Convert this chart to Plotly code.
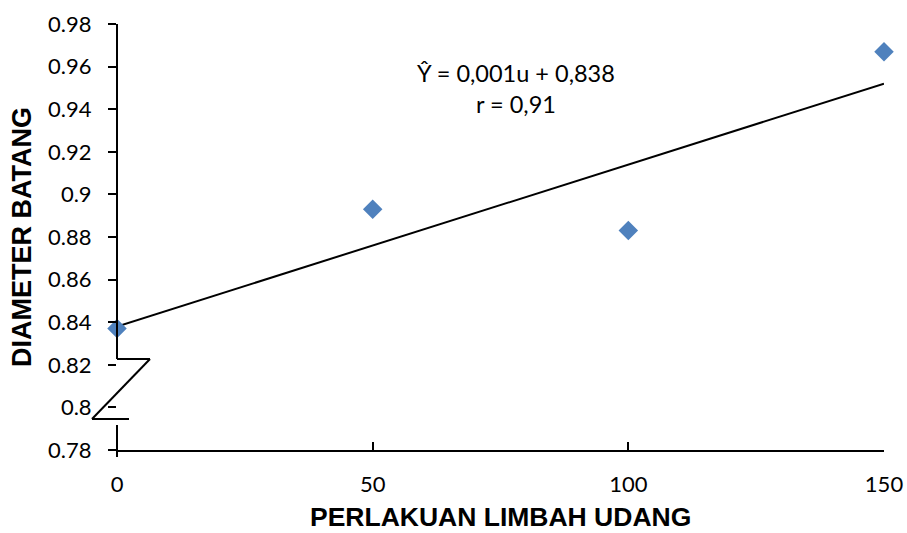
import numpy as np
import plotly.graph_objects as go

# Data
perlakuan = [0, 50, 100, 150]
diameter = [0.837, 0.893, 0.883, 0.967]
x_ticks = [0, 50, 100, 150]
y_ticks = [0.78, 0.80, 0.82, 0.84, 0.86, 0.88, 0.90, 0.92, 0.94, 0.96, 0.98]
y_tick_labels = ["0.78", "0.8", "0.82", "0.84", "0.86", "0.88", "0.9", "0.92", "0.94", "0.96", "0.98"]

slope, intercept = np.polyfit(perlakuan, diameter, 1)
trend_x = [min(perlakuan), max(perlakuan)]
trend_y = [slope * v + intercept for v in trend_x]

fig = go.Figure()
fig.add_trace(go.Scatter(x=trend_x, y=trend_y, mode="lines",
                         line=dict(color="black", width=2), showlegend=False))
fig.add_trace(go.Scatter(x=perlakuan, y=diameter, mode="markers",
                         marker=dict(symbol="diamond", size=15, color="#4F81BD",
                                     line=dict(width=0)), showlegend=False,
                         cliponaxis=False))

W, H = 907, 533
L, R, T, B = 117, 23, 24, 83
pw, ph = W - L - R, H - T - B

def px(xp):
    return (xp - L) / pw

def py(yp):
    return (H - B - yp) / ph

line_style = dict(color="black", width=2)
shapes = [
    dict(type="line", xref="paper", yref="paper", x0=0, x1=0, y0=py(24), y1=py(359), line=line_style),
    dict(type="line", xref="paper", yref="paper", x0=0, x1=0, y0=py(425), y1=py(457), line=line_style),
    dict(type="line", xref="paper", yref="paper", x0=0, x1=px(150), y0=py(359), y1=py(359), line=line_style),
    dict(type="line", xref="paper", yref="paper", x0=px(150), x1=px(92), y0=py(359), y1=py(419), line=line_style),
    dict(type="line", xref="paper", yref="paper", x0=px(92), x1=px(129), y0=py(419), y1=py(419), line=line_style),
]

annotations = [
    dict(text="Ŷ = 0,001u + 0,838<br>r = 0,91", x=78, y=0.9495, xref="x", yref="y",
         showarrow=False, font=dict(family="Lato", size=23.5, color="black"), align="center"),
    dict(text="<b>PERLAKUAN LIMBAH UDANG</b>", xref="paper", yref="paper",
         x=px(500), y=py(517), showarrow=False, xanchor="center", yanchor="middle",
         borderpad=0,
         font=dict(family="Liberation Sans, Arial", size=26.5, color="black")),
    dict(text="<b>DIAMETER BATANG</b>", xref="paper", yref="paper",
         x=px(22), y=py(237), showarrow=False, xanchor="center", yanchor="middle", textangle=-90,
         font=dict(family="Liberation Sans, Arial", size=27, color="black")),
]

fig.update_layout(
    width=W, height=H,
    margin=dict(l=L, r=R, t=T, b=B, autoexpand=False),
    paper_bgcolor="white", plot_bgcolor="white",
    font=dict(family="Lato", size=22, color="black"),
    shapes=shapes, annotations=annotations,
    xaxis=dict(range=[0, 150], tickvals=x_ticks, ticks="inside", ticklen=8, tickwidth=2,
               tickcolor="black", showline=True, linecolor="black", linewidth=2,
               showgrid=False, zeroline=False, mirror=False, ticklabelstandoff=14,
               automargin=False),
    yaxis=dict(range=[0.78, 0.98], tickvals=y_ticks, ticktext=y_tick_labels,
               ticks="outside", ticklen=8, tickwidth=2, tickcolor="black",
               showline=False, showgrid=False, zeroline=False, ticklabelstandoff=12,
               automargin=False),
)

fig.write_html("out.html", config={"displayModeBar": False},
               post_script="document.body.style.margin='0';document.body.style.overflow='hidden';")
